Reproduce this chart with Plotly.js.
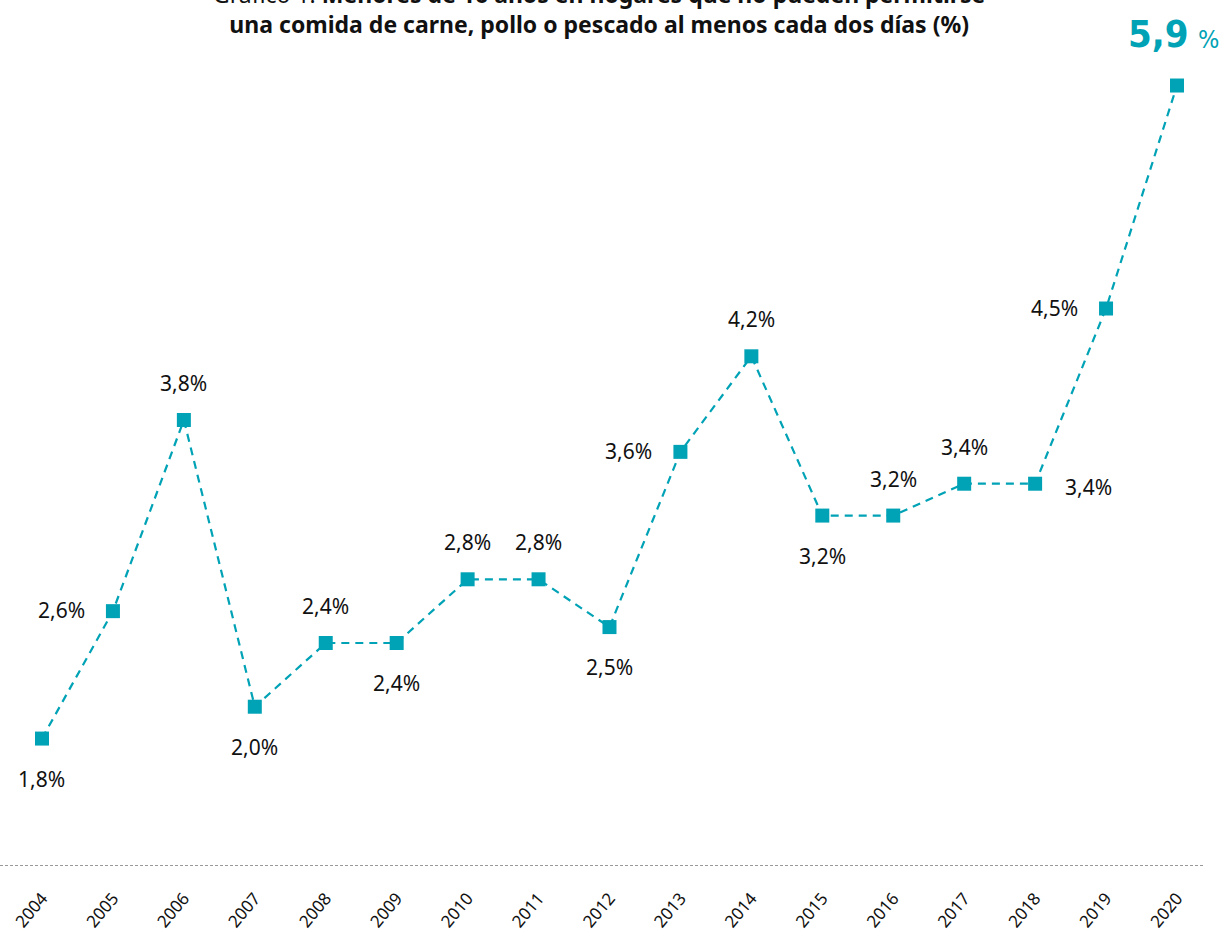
<!DOCTYPE html>
<html>
<head>
<meta charset="utf-8">
<script src="https://cdn.plot.ly/plotly-3.0.1.min.js"></script>
<style>html,body{margin:0;padding:0;background:#fff;}#chart{width:1219px;height:932px;}</style>
</head>
<body>
<div id="chart"></div>
<script>
// Data
const years = [2004,2005,2006,2007,2008,2009,2010,2011,2012,2013,2014,2015,2016,2017,2018,2019,2020];
const values = [1.8,2.6,3.8,2.0,2.4,2.4,2.8,2.8,2.5,3.6,4.2,3.2,3.2,3.4,3.4,4.5,5.9];
const tickLabels = years.map(String);
const titleText = "Gráfico 1. <b>Menores de 16 años en hogares que no pueden permitirse</b><br><b>una comida de carne, pollo o pescado al menos cada dos días (%)</b>";

// Label placement (style)
const labelPos = ['below','left','above','below','above','below','above','above','below','left','above','below','above','above','right','left','big'];

const teal = '#00a2b5';
const fmt = v => v.toFixed(1).replace('.', ',');

const annotations = [];
years.forEach((yr, i) => {
  const v = values[i];
  const pos = labelPos[i];
  if (pos === 'big') {
    annotations.push({x: yr, y: v, xref: 'x', yref: 'y', showarrow: false,
      text: '<b>' + fmt(v) + '</b>', xanchor: 'right', xshift: 14, yshift: 52,
      font: {family: 'DejaVu Sans Condensed, Liberation Sans Narrow, sans-serif', size: 38, color: teal}});
    annotations.push({x: yr, y: v, xref: 'x', yref: 'y', showarrow: false,
      text: '%', xanchor: 'left', xshift: 19, yshift: 46,
      font: {family: 'DejaVu Sans Condensed, Liberation Sans Narrow, sans-serif', size: 25, color: teal}});
    return;
  }
  const a = {x: yr, y: v, xref: 'x', yref: 'y', showarrow: false, text: fmt(v) + '%',
    font: {family: 'Noto Sans, sans-serif', size: 21, color: '#111'}};
  if (pos === 'above') a.yshift = 37;
  else if (pos === 'below') a.yshift = -40;
  else if (pos === 'left') { a.xanchor = 'right'; a.xshift = -26; a.yshift = 1; }
  else if (pos === 'right') { a.xanchor = 'left'; a.xshift = 28; a.yshift = -3; }
  annotations.push(a);
});

// Title (partly above the top edge, as in the reference)
annotations.push({xref: 'paper', yref: 'paper', x: 0.497, y: 1, xanchor: 'center', yanchor: 'middle',
  yshift: 41, showarrow: false, text: titleText, align: 'center',
  font: {family: 'Noto Sans, sans-serif', size: 23, color: '#111'}});

const trace = {
  x: years, y: values, type: 'scatter', mode: 'lines+markers',
  line: {color: teal, width: 2.2, dash: '8px,6px'},
  marker: {symbol: 'square', size: 14, color: teal},
  cliponaxis: false, hoverinfo: 'skip'
};

const layout = {
  width: 1219, height: 932,
  margin: {l: 0, r: 14, t: 50, b: 66},
  paper_bgcolor: '#fff', plot_bgcolor: '#fff',
  showlegend: false,
  xaxis: {range: [2003.408, 2020.395], tickvals: years, ticktext: tickLabels, tickangle: -50,
    ticklabelstandoff: 18,
    showgrid: false, zeroline: false, showline: false, ticks: '',
    tickfont: {family: 'Noto Sans, sans-serif', size: 17, color: '#111'}, fixedrange: true},
  yaxis: {range: [1.0, 6.123], visible: false, showgrid: false, zeroline: false, fixedrange: true},
  shapes: [{type: 'line', xref: 'paper', yref: 'y', x0: 0, x1: 1, y0: 1.0, y1: 1.0,
    line: {color: '#333', width: 1, dash: '3px,2px'}}],
  annotations: annotations
};

Plotly.newPlot('chart', [trace], layout, {displayModeBar: false, staticPlot: true});
</script>
</body>
</html>
